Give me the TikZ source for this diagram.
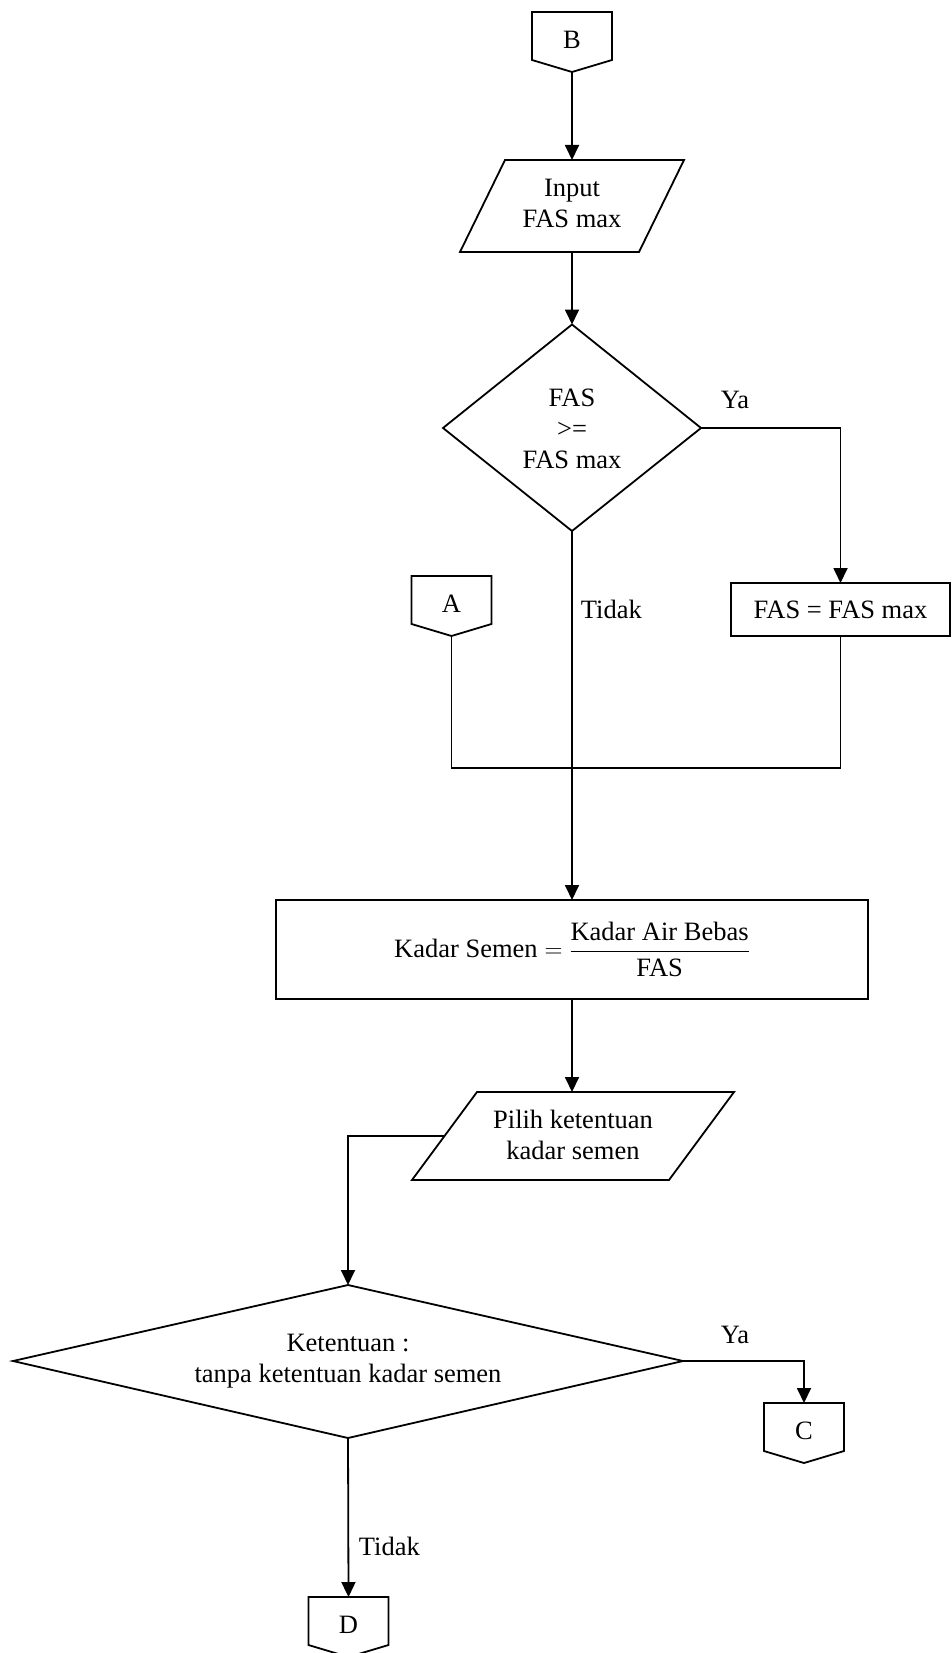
\documentclass[tikz,border=0pt]{standalone}
\usepackage{amsmath}
\usepackage{fontspec}
\setmainfont{Liberation Serif}
\usetikzlibrary{arrows.meta,calc}
\begin{document}
\begin{tikzpicture}[x=1pt,y=-1pt,
  line width=1.8pt,
  txt/.style={font=\fontsize{26.5}{31}\selectfont, align=center, inner sep=0pt},
  arr/.style={-{Triangle[length=15pt,width=14pt]}},
  procbox/.style={draw, txt, rectangle, outer sep=0pt}
]
\newcommand\offpage[4]{%
  \draw (#2-40,#3) -- (#2+40,#3) -- (#2+40,#3+48) -- (#2,#3+60) -- (#2-40,#3+48) -- cycle;
  \node[txt] (#1) at (#2,#3+28) {#4};
  \coordinate (#1top) at (#2,#3);
  \coordinate (#1tip) at (#2,#3+60);
}
\useasboundingbox (0,0) rectangle (951,1653);

% connector B
\offpage{B}{572}{12}{B}

% input FAS max
\draw (505,160) -- (684,160) -- (639,252) -- (460,252) -- cycle;
\node[txt] (in1) at (572,203) {Input\\FAS max};
\coordinate (in1n) at (572,160);
\coordinate (in1s) at (572,252);
\draw[arr] (Btip) -- (in1n);

% decision 1
\draw (572,324.5) -- (701,428) -- (572,531) -- (443,428) -- cycle;
\node[txt] (dec1) at (572,429) {FAS\\>=\\FAS max};
\coordinate (dec1n) at (572,324.5);
\coordinate (dec1e) at (701,428);
\coordinate (dec1s) at (572,531);
\draw[arr] (in1s) -- (dec1n);

\node[txt] (ya1) at (735,400) {Ya};
\node[procbox, minimum width=219, minimum height=53, anchor=north west] (setbox) at (731,583) {FAS = FAS max};
\draw[arr] (dec1e) -| (setbox.north);

% connector A
\offpage{A}{451.5}{576}{A}
\node[txt, anchor=west] (tidak1) at (580,609) {Tidak};

% join
\coordinate (j) at (572,768);
\draw (Atip) |- (j);
\draw (setbox.south) |- (j);

% calc box
\node[procbox, minimum width=592, minimum height=99] (calc) at (572,949.5)
  {$\text{Kadar Semen} = \dfrac{\rule[-4pt]{0pt}{4pt}\text{Kadar Air Bebas}}{\rule{0pt}{22pt}\text{FAS}}$};
\draw[arr] (dec1s) -- (calc.north);

% input 2
\draw (477,1092) -- (734,1092) -- (669,1180) -- (412,1180) -- cycle;
\node[txt] (in2) at (573,1135) {Pilih ketentuan\\kadar semen};
\coordinate (in2n) at (572,1092);
\coordinate (in2w) at (444.5,1136);
\draw[arr] (calc.south) -- (in2n);

% decision 2
\draw (348,1285) -- (683,1361) -- (348,1438) -- (13,1361) -- cycle;
\node[txt] (dec2) at (348,1361) {Ketentuan :\\tanpa ketentuan kadar semen};
\coordinate (dec2n) at (348,1285);
\coordinate (dec2e) at (683,1361);
\coordinate (dec2s) at (348,1438);
\draw[arr] (in2w) -| (dec2n);

\node[txt] (ya2) at (735,1335) {Ya};
\offpage{C}{804}{1403}{C}
\draw[arr] (dec2e) -| (Ctop);

\offpage{D}{348.5}{1597}{D}
\node[txt, anchor=west] (tidak2) at (358,1546) {Tidak};
\draw[arr] (dec2s) -- (Dtop);
\end{tikzpicture}
\end{document}
